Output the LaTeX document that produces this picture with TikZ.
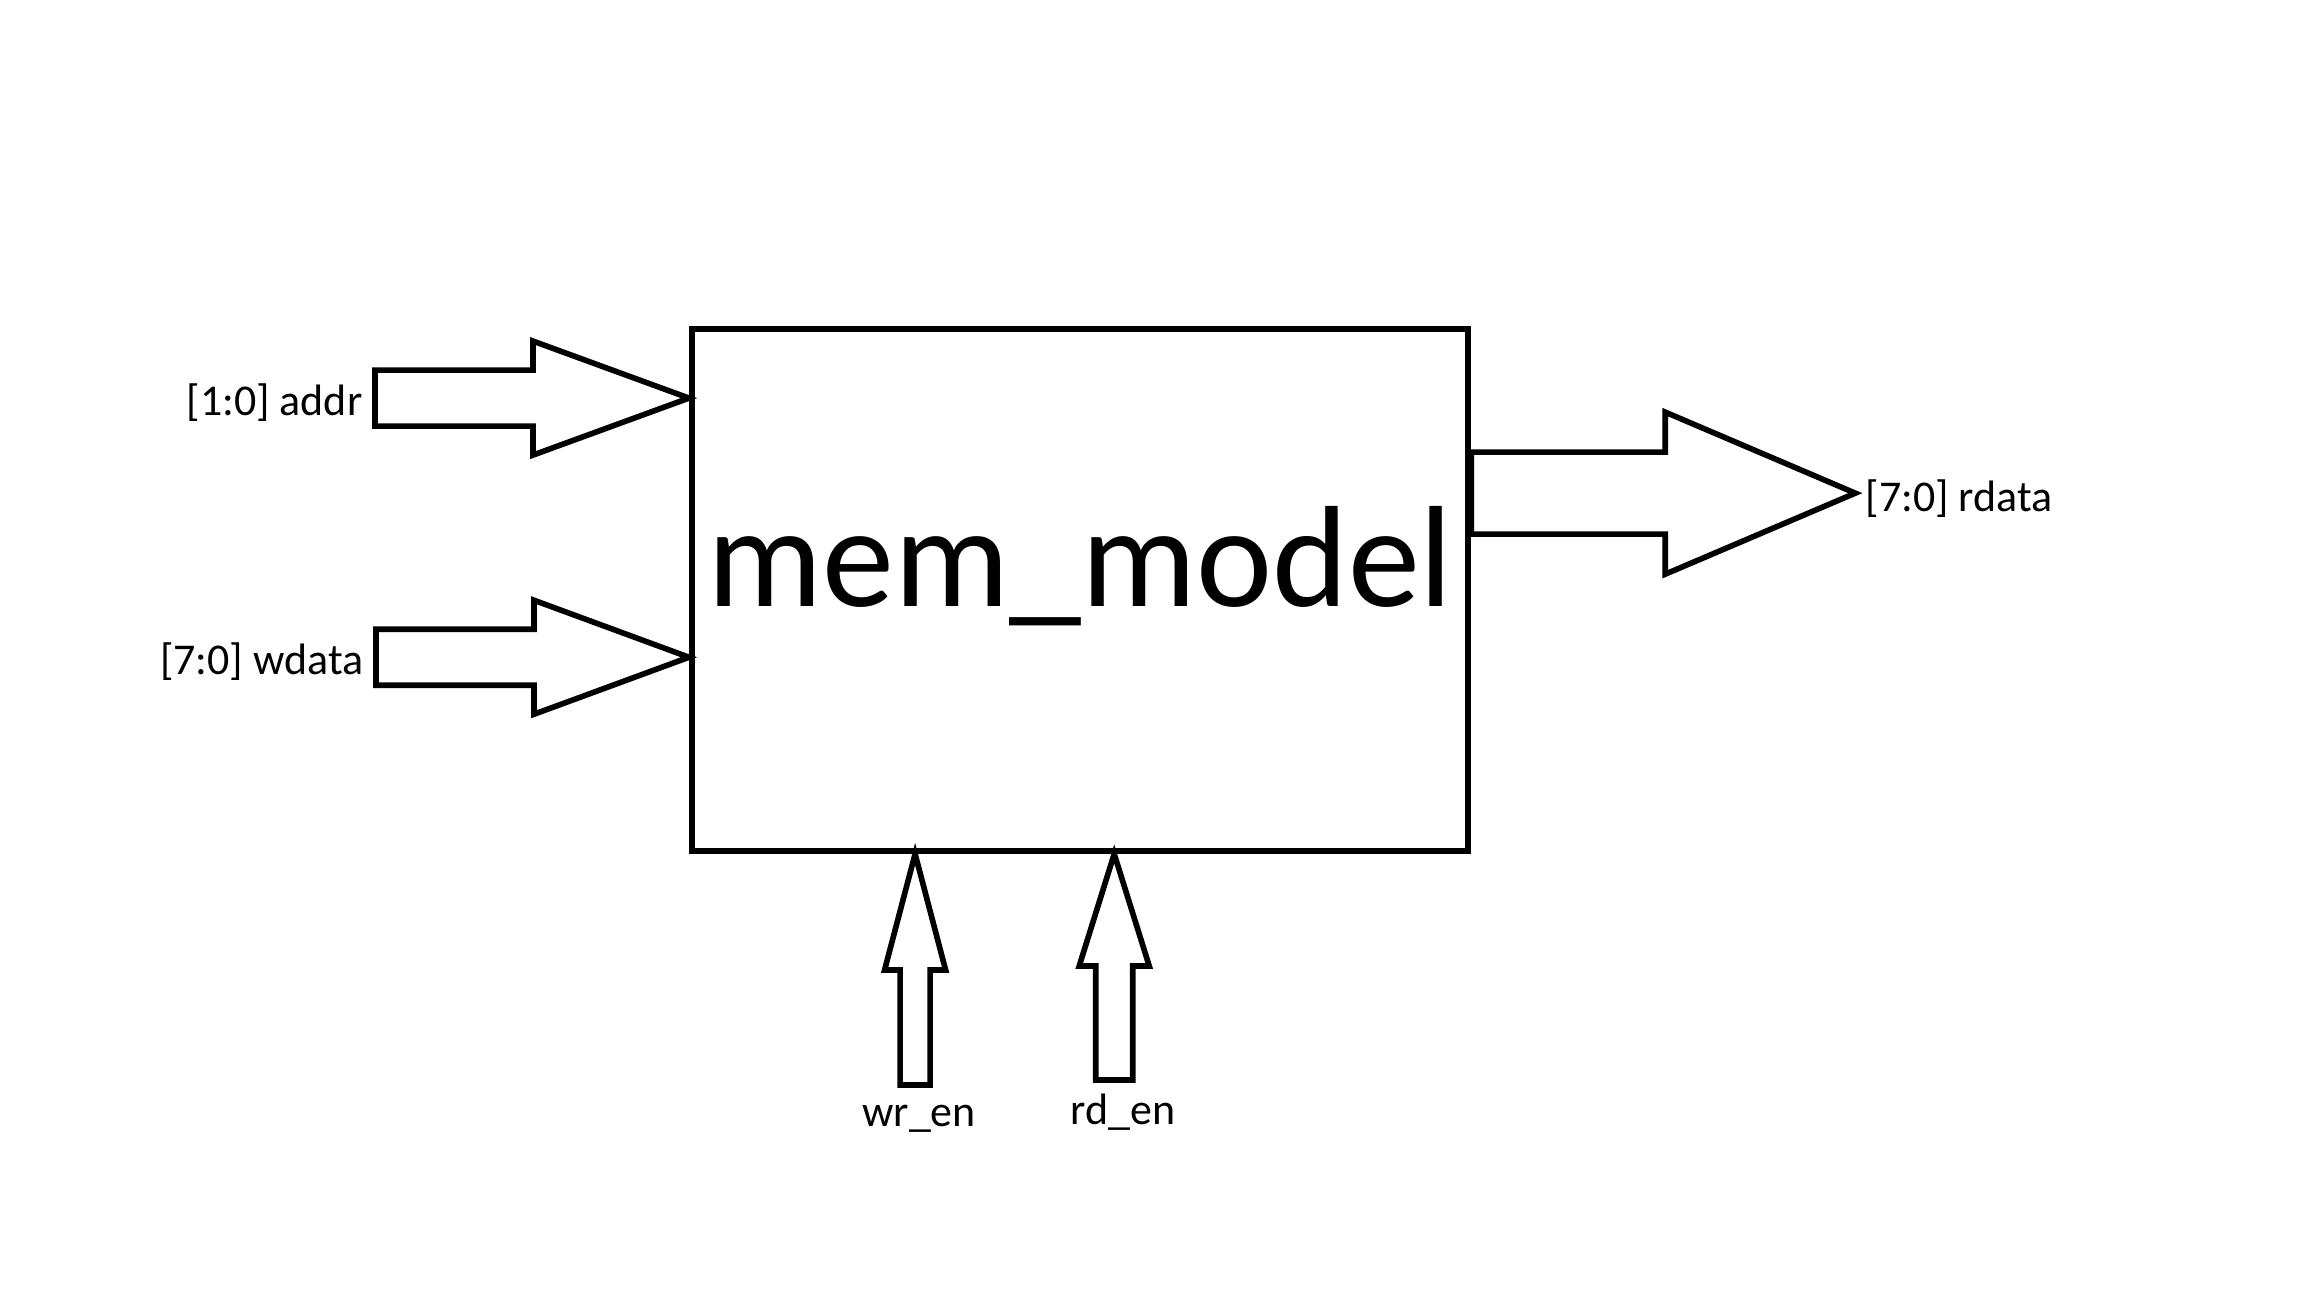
\documentclass[tikz,border=0pt]{standalone}
\usepackage{fontspec}
\setmainfont{Carlito}
\usetikzlibrary{calc,positioning}
\tikzset{
  modbox/.style={draw=black, line width=1.6pt, fill=white, inner sep=0pt,
    minimum width=7.76cm, minimum height=5.22cm},
  title/.style={font=\fontsize{41}{49}\selectfont, inner sep=0pt},
  sig/.style={font=\fontsize{12.5}{15}\selectfont},
  busline/.style={draw=black, line width=1.6pt, fill=white, line join=miter},
  pics/busarrow/.style n args={4}{code={
    \draw[busline] (0,0) -- (-#4,#3) -- (-#4,#2) -- (-#1,#2) -- (-#1,-#2)
      -- (-#4,-#2) -- (-#4,-#3) -- cycle;}}
}
\begin{document}
\begin{tikzpicture}[x=0.01cm, y=-0.01cm]
  \useasboundingbox (0,0) rectangle (2304,1296);
  \node[modbox] (mem) at (1080,590) {};
  \node[title, anchor=base] (memtxt) at ([yshift=-0.16cm]mem.center) {mem\_model};

  % tips and tails on the block
  \coordinate (addrtip) at ([yshift=-0.72cm]mem.north west);
  \coordinate (wdatatip) at ([yshift=-3.31cm]mem.north west);
  \coordinate (rdatatail) at ([yshift=-1.67cm]mem.north east);
  \coordinate (wrtip) at ([xshift=2.26cm]mem.south west);
  \coordinate (rdtip) at ([xshift=4.25cm]mem.south west);

  \pic at (addrtip) {busarrow={314}{28}{57}{156}};
  \pic at (wdatatip) {busarrow={313}{28}{57}{155}};
  \pic at ([xshift=3.84cm]rdatatail) {busarrow={384}{41}{81}{190}};
  \pic[rotate=90] at (wrtip) {busarrow={231}{15}{30.5}{116}};
  \pic[rotate=90] at (rdtip) {busarrow={226}{18.5}{35}{112}};

  \node[sig, anchor=base east] (addr) at ([xshift=-3.14cm, yshift=-0.17cm]addrtip) {[1:0] addr};
  \node[sig, anchor=base east] (wdata) at ([xshift=-3.13cm, yshift=-0.17cm]wdatatip) {[7:0] wdata};
  \node[sig, anchor=base west] (rdata) at ([xshift=3.82cm, yshift=-0.18cm]rdatatail) {[7:0] rdata};
  \node[sig, anchor=base] (wren) at ([xshift=0.04cm, yshift=-2.72cm]wrtip) {wr\_en};
  \node[sig, anchor=base] (rden) at ([xshift=0.09cm, yshift=-2.70cm]rdtip) {rd\_en};
\end{tikzpicture}
\end{document}
